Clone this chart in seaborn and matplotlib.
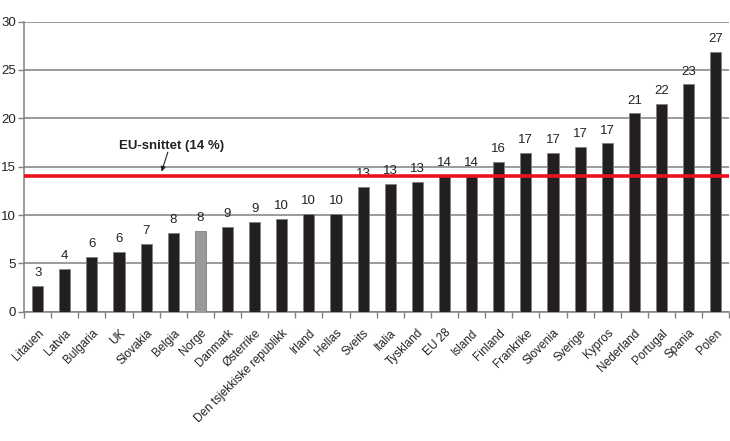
import seaborn as sns
import matplotlib.pyplot as plt
from matplotlib.ticker import FixedLocator

countries = [
    "Litauen", "Latvia", "Bulgaria", "UK", "Slovakia", "Belgia", "Norge",
    "Danmark", "Østerrike", "Den tsjekkiske republikk", "Irland", "Hellas",
    "Sveits", "Italia", "Tyskland", "EU 28", "Island", "Finland",
    "Frankrike", "Slovenia", "Sverige", "Kypros", "Nederland", "Portugal",
    "Spania", "Polen",
]
values = [
    2.7, 4.4, 5.7, 6.2, 7.0, 8.1, 8.4, 8.8, 9.3, 9.6, 10.1, 10.1, 12.9,
    13.2, 13.4, 14.0, 14.0, 15.5, 16.4, 16.4, 17.0, 17.4, 20.5, 21.5,
    23.5, 26.9,
]
value_labels = [
    3, 4, 6, 6, 7, 8, 8, 9, 9, 10, 10, 10, 13, 13, 13, 14, 14, 16, 17,
    17, 17, 17, 21, 22, 23, 27,
]
eu_average = 14
y_ticks = [0, 5, 10, 15, 20, 25, 30]

sns.set_theme(style="white")
plt.rcParams["font.family"] = ["Liberation Sans", "DejaVu Sans"]

fig = plt.figure(figsize=(7.3, 4.41), dpi=100)
ax = fig.add_axes([0.033, 0.293, 0.966, 0.658])

colors = ["#9a9a9a" if c == "Norge" else "#231f20" for c in countries]
sns.barplot(
    x=countries, y=values, hue=countries, palette=colors, legend=False,
    width=0.41, edgecolor="#808080", linewidth=0.6, saturation=1, ax=ax,
    zorder=3,
)

# value labels over bars
for i, (v, lab) in enumerate(zip(values, value_labels)):
    ax.annotate(str(lab), (i, v), xytext=(0, 5), textcoords="offset points",
                ha="center", va="bottom", fontsize=9.5, color="#222222")

# EU average line
ax.axhline(eu_average, color="#e8141c", linewidth=2.6, zorder=4)
ax.text(4.95, 17.1, "EU-snittet (14 %)", fontsize=9.5, fontweight="bold",
        ha="center", va="center", color="#222222")
ax.annotate(
    "", xy=(4.57, 14.5), xytext=(4.8, 16.5),
    arrowprops=dict(arrowstyle="-|>", color="#222222", lw=0.8,
                    mutation_scale=7, shrinkA=0, shrinkB=0),
)

ax.set_ylim(0, 30)
ax.set_xlim(-0.5, len(countries) - 0.5)
ax.set_yticks(y_ticks)
ax.yaxis.grid(True, color="#808080", linewidth=1.1, zorder=0)
ax.set_axisbelow(True)

for side in ["top", "right"]:
    ax.spines[side].set_visible(False)
ax.spines["left"].set_color("#808080")
ax.spines["bottom"].set_color("#808080")
ax.spines["left"].set_linewidth(1.1)
ax.spines["bottom"].set_linewidth(1.1)

ax.tick_params(axis="y", which="major", left=True, length=4, width=1,
               color="#808080", labelsize=9.5, pad=2, labelcolor="#222222")
ax.set_xticks(range(len(countries)))
ax.set_xticklabels(countries, rotation=45, ha="right", rotation_mode="anchor",
                   fontsize=8.5, color="#222222")
ax.tick_params(axis="x", which="major", bottom=False, pad=5)
ax.xaxis.set_minor_locator(FixedLocator([i - 0.5 for i in range(len(countries) + 1)]))
ax.tick_params(axis="x", which="minor", bottom=True, length=4, width=1,
               color="#808080")
ax.set_xlabel("")
ax.set_ylabel("")

fig.savefig("out.png", dpi=100)
